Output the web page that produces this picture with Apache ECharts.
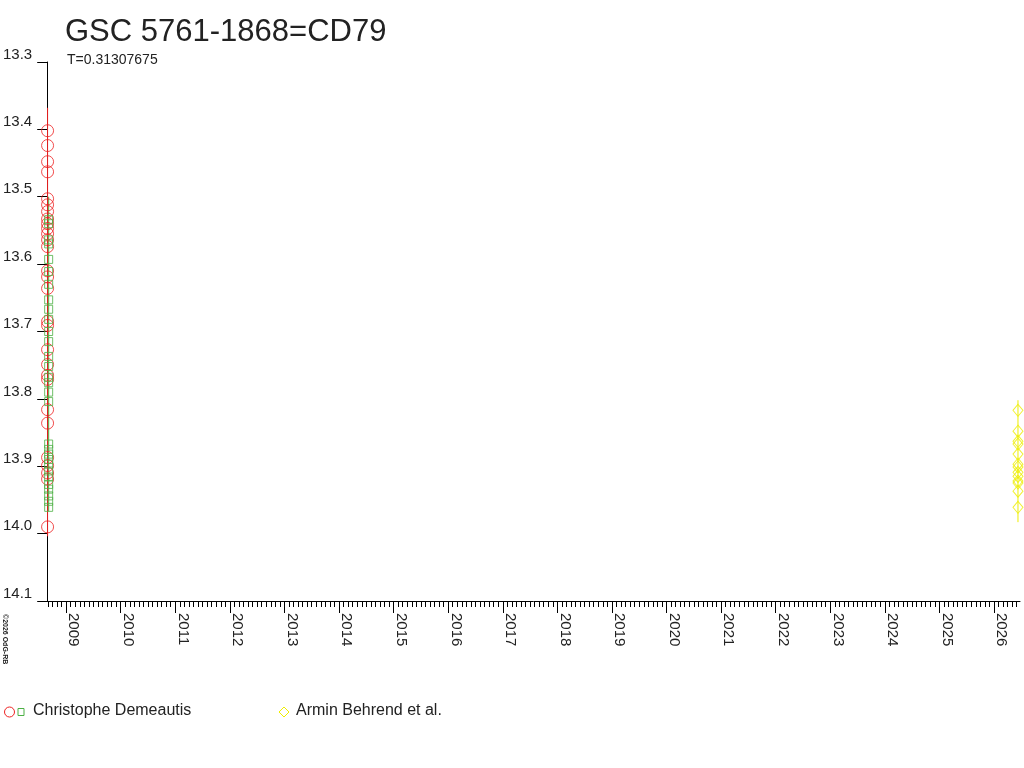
<!DOCTYPE html>
<html>
<head>
<meta charset="utf-8">
<script src="https://cdn.jsdelivr.net/npm/echarts@6/dist/echarts.min.js"></script>
<style>html,body{margin:0;padding:0;background:#fff}#c{width:1024px;height:768px}</style>
</head>
<body>
<div id="c"></div>
<script>
// ---- data ----
const title = "GSC 5761-1868=CD79";
const subtitle = "T=0.31307675";
const yTicks = [13.3, 13.4, 13.5, 13.6, 13.7, 13.8, 13.9, 14.0, 14.1];
const years = [2009,2010,2011,2012,2013,2014,2015,2016,2017,2018,2019,2020,2021,2022,2023,2024,2025,2026];
const xMin = 2008.653, xMax = 2026.477;

const redName = "Christophe Demeautis";
const redDate = 2008.66;
const redMag = [13.402,13.424,13.448,13.463,13.503,13.512,13.522,13.533,13.540,13.547,13.555,13.564,13.574,
  13.610,13.619,13.636,13.685,13.691,13.727,13.749,13.765,13.771,13.816,13.836,13.887,13.899,13.910,13.919,13.990];
const redRange = [13.368, 14.004];

const greenDate = 2008.68;
const greenMag = [13.534,13.540,13.564,13.570,13.593,13.611,13.630,13.653,13.667,13.682,13.700,13.715,13.737,13.752,
  13.768,13.776,13.790,13.804,13.867,13.875,13.882,13.890,13.897,13.907,13.916,13.927,13.934,13.944,13.952,13.961];
const greenRange = [13.500, 13.967];

const yellowName = "Armin Behrend et al.";
const yellowDate = 2026.44;
const yellowMag = [13.817,13.848,13.863,13.867,13.882,13.897,13.901,13.909,13.915,13.922,13.925,13.937,13.961];
const yellowRange = [13.802, 13.983];

// ---- build ----
const RED = '#ee2222', GREEN = '#4cb044', YELLOW = '#eeee00';
const months = [];
for (let y = 2008; y <= 2026; y++) for (let m = 1; m < 12; m++) months.push(y + m / 12);

function pts(x, arr) { return arr.map(v => [x, v]); }

const chart = echarts.init(document.getElementById('c'), null, {renderer: 'canvas'});
const FONT = 'Liberation Sans, Arial, sans-serif';
chart.setOption({
  animation: false,
  backgroundColor: '#fff',
  title: [
    {text: title, left: 60, top: 12, textStyle: {fontFamily: FONT, fontSize: 31, fontWeight: 'normal', color: '#222'}},
    {text: subtitle, left: 62, top: 48, textStyle: {fontFamily: FONT, fontSize: 14, fontWeight: 'normal', color: '#222'}}
  ],
  grid: {left: 45, right: 4, top: 62, bottom: 167, containLabel: false},
  xAxis: [{
    type: 'value', min: xMin, max: xMax, position: 'bottom',
    axisLine: {show: true, lineStyle: {color: '#000', width: 1}},
    splitLine: {show: false},
    axisTick: {show: true, length: 12, inside: false, customValues: years, lineStyle: {color: '#000'}},
    axisLabel: {show: true, customValues: years, rotate: -90, margin: 12, fontFamily: FONT, fontSize: 15, color: '#222',
      verticalAlign: 'bottom', formatter: v => String(Math.round(v))}
  }, {
    type: 'value', min: xMin, max: xMax, position: 'bottom',
    axisLine: {show: false},
    splitLine: {show: false},
    axisTick: {show: true, length: 6, customValues: months, lineStyle: {color: '#000'}},
    axisLabel: {show: false}
  }],
  yAxis: {
    type: 'value', inverse: true, min: 13.3, max: 14.1, interval: 0.1,
    axisLine: {show: true, lineStyle: {color: '#000'}},
    splitLine: {show: false},
    axisTick: {show: true, length: 10, lineStyle: {color: '#000'}},
    axisLabel: {show: true, margin: 15, fontFamily: FONT, fontSize: 15, color: '#222', verticalAlign: 'bottom',
      formatter: v => v.toFixed(1)}
  },
  series: [
    {type: 'line', data: pts(greenDate, greenRange), symbol: 'none', lineStyle: {color: GREEN, width: 1}, z: 2, silent: true},
    {type: 'line', data: pts(redDate, redRange), symbol: 'none', lineStyle: {color: RED, width: 1}, z: 3, silent: true},
    {type: 'line', data: pts(yellowDate, yellowRange), symbol: 'none', lineStyle: {color: YELLOW, width: 1}, z: 2, silent: true},
    {name: redName, type: 'scatter', data: pts(redDate, redMag), symbol: 'circle', symbolSize: 12,
      itemStyle: {color: 'rgba(0,0,0,0)', borderColor: RED, borderWidth: 1}, z: 4},
    {name: redName, type: 'scatter', data: pts(greenDate, greenMag), symbol: 'rect', symbolSize: 8,
      itemStyle: {color: 'rgba(0,0,0,0)', borderColor: GREEN, borderWidth: 1}, z: 5},
    {name: yellowName, type: 'scatter', data: pts(yellowDate, yellowMag), symbol: 'diamond', symbolSize: [10, 12],
      itemStyle: {color: 'rgba(0,0,0,0)', borderColor: YELLOW, borderWidth: 1}, z: 4}
  ],
  graphic: [
    {type: 'circle', shape: {cx: 9.5, cy: 712, r: 5}, style: {fill: 'none', stroke: RED, lineWidth: 1}},
    {type: 'rect', shape: {x: 18, y: 708.5, width: 6, height: 7}, style: {fill: 'none', stroke: GREEN, lineWidth: 1}},
    {type: 'text', left: 33, top: 703, style: {text: redName, font: '16px ' + FONT, fill: '#222'}},
    {type: 'polygon', shape: {points: [[284, 707], [289, 712], [284, 717], [279, 712]]}, style: {fill: 'none', stroke: YELLOW, lineWidth: 1}},
    {type: 'text', left: 296, top: 703, style: {text: yellowName, font: '16px ' + FONT, fill: '#222'}},
    {type: 'text', x: 8, y: 614, rotation: -Math.PI / 2, style: {text: '\u00a92026 OdG-RB', font: 'bold 7px ' + FONT, fill: '#222'}}
  ]
});
</script>
</body>
</html>
